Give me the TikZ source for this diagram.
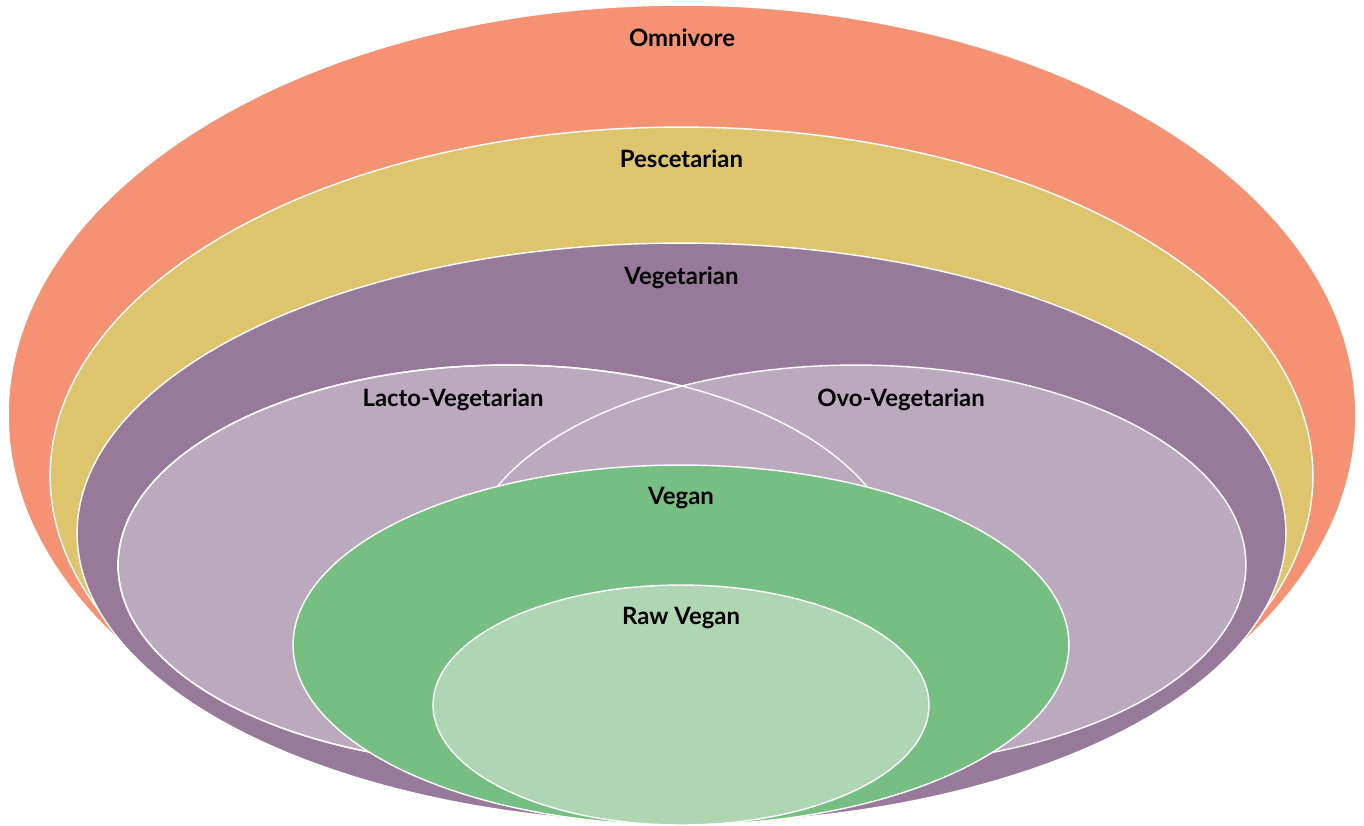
\documentclass[tikz,border=0pt]{standalone}
\usepackage{fontspec}
\setmainfont{Lato}
\usepackage{tikz}
\usetikzlibrary{positioning, shapes.geometric}

\definecolor{omniC}{HTML}{F59273}
\definecolor{pescC}{HTML}{DDC46D}
\definecolor{vegC}{HTML}{977A9A}
\definecolor{lactoC}{HTML}{BBAABE}
\definecolor{veganC}{HTML}{76BE82}
\definecolor{rawC}{HTML}{AFD6B2}

\begin{document}
\begin{tikzpicture}[
  x=0.02cm, y=-0.02cm,
  ring/.style={
    ellipse, draw=white, line width=0.8pt, fill=#1,
    inner sep=0pt, outer sep=0pt,
  },
  ltitle/.style={font=\bfseries\fontsize{13.6}{16}\selectfont, text=black, inner sep=2pt},
]
\useasboundingbox (0,0) rectangle (1364,825);

% Nested diets, outermost first.
\node[ring=omniC, minimum width=26.96cm, minimum height=16.4cm]  (omni)  at (682,415)   {};
\node[ring=pescC, minimum width=25.26cm, minimum height=13.96cm] (pesc)  at (681.5,476) {};
\node[ring=vegC,  minimum width=24.18cm, minimum height=11.6cm]  (veg)   at (681.5,533) {};

% Two overlapping vegetarian branches; lacto edge is redrawn on top.
\node[ring=lactoC, minimum width=15.6cm, minimum height=8cm] (lacto) at (508,565) {};
\node[ring=lactoC, minimum width=15.6cm, minimum height=8cm] (ovo)   at (856,565) {};
\node[ellipse, draw=white, line width=0.8pt, inner sep=0pt,
      minimum width=15.6cm, minimum height=8cm] (lactoEdge) at (lacto.center) {};

\node[ring=veganC, minimum width=15.52cm, minimum height=7.2cm] (vegan) at (681,645) {};
\node[ring=rawC,   minimum width=9.92cm,  minimum height=4.8cm] (raw)   at (681,705) {};

% Titles, just below the top of each ring.
\node[ltitle] (omniLbl)  at ([yshift=-0.66cm]omni.north)  {Omnivore};
\node[ltitle] (pescLbl)  at ([yshift=-0.64cm]pesc.north)  {Pescetarian};
\node[ltitle] (vegLbl)   at ([yshift=-0.69cm]veg.north)   {Vegetarian};
\node[ltitle] (lactoLbl) at (453,400)                     {Lacto-Vegetarian};
\node[ltitle] (ovoLbl)   at (901,400)                     {Ovo-Vegetarian};
\node[ltitle] (veganLbl) at ([yshift=-0.66cm]vegan.north) {Vegan};
\node[ltitle] (rawLbl)   at ([yshift=-0.66cm]raw.north)   {Raw Vegan};

\end{tikzpicture}
\end{document}
